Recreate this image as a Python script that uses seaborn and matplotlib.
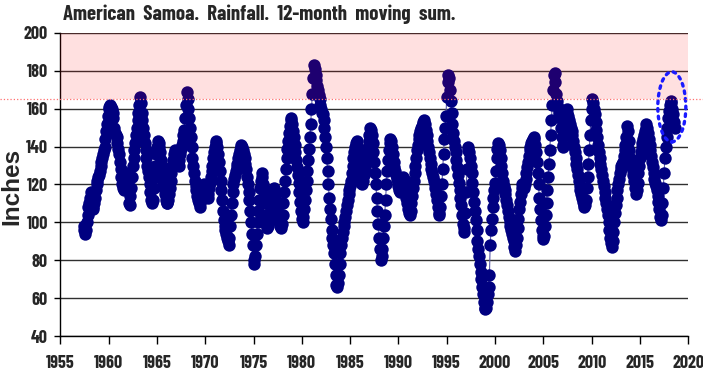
import numpy as np
import pandas as pd
import matplotlib.pyplot as plt
import matplotlib.transforms as mtransforms
from matplotlib.lines import Line2D
from matplotlib.patches import Ellipse
import seaborn as sns

# 12-month moving sum of rainfall (inches), monthly, first value = June 1957
rain_1957_1966 = [
    98, 96, 94, 96, 100, 104, 108,
    110, 113, 116, 112, 108, 107, 110, 113, 117, 120, 122, 124,
    125, 127, 130, 132, 134, 136, 138, 140, 144, 148, 152, 156,
    160, 161, 162, 161, 160, 158, 155, 150, 147, 146, 145, 142,
    139, 136, 132, 128, 124, 120, 118, 117, 119, 121, 124, 126,
    118, 110, 109, 114, 118, 124, 130, 134, 138, 142, 146, 150,
    154, 158, 162, 166, 163, 158, 154, 150, 146, 142, 138, 134,
    130, 127, 124, 120, 116, 112, 110, 112, 118, 124, 130, 136,
    140, 143, 142, 140, 137, 133, 130, 126, 122, 118, 115, 112,
    110, 110, 112, 115, 118, 122, 126, 130, 133, 136, 138, 137,
]
rain_1967_1976 = [
    136, 134, 132, 130, 133, 136, 139, 141, 143, 146, 149, 155,
    162, 169, 165, 160, 155, 150, 145, 140, 134, 130, 126, 122,
    119, 117, 114, 112, 110, 108, 110, 112, 115, 118, 120, 119,
    118, 116, 114, 113, 115, 118, 121, 124, 127, 130, 134, 137,
    140, 142, 143, 140, 136, 132, 127, 122, 117, 112, 106, 101,
    98, 96, 94, 92, 90, 88, 92, 98, 104, 110, 116, 120,
    123, 125, 127, 129, 131, 134, 136, 138, 140, 141, 140, 138,
    136, 134, 131, 128, 124, 120, 116, 112, 106, 100, 94, 88,
    80, 78, 82, 88, 94, 100, 106, 112, 118, 122, 126, 124,
    120, 116, 110, 104, 99, 97, 98, 101, 105, 109, 112, 115,
]
rain_1977_1986 = [
    117, 118, 116, 113, 110, 107, 104, 102, 100, 98, 97, 99,
    104, 110, 116, 122, 128, 134, 139, 143, 147, 151, 154, 155,
    152, 148, 145, 141, 137, 133, 129, 125, 121, 116, 111, 106,
    102, 100, 103, 107, 112, 117, 122, 127, 133, 139, 145, 152,
    160, 168, 176, 183, 181, 178, 175, 172, 170, 167, 165, 162,
    160, 158, 157, 154, 150, 145, 140, 134, 127, 120, 113, 107,
    102, 96, 92, 88, 84, 78, 72, 67, 66, 68, 72, 78,
    84, 88, 92, 95, 98, 100, 103, 106, 109, 112, 115, 117,
    119, 122, 126, 130, 134, 137, 140, 142, 143, 140, 136, 131,
    127, 124, 121, 120, 122, 125, 128, 131, 134, 137, 140, 143,
]
rain_1987_1996 = [
    146, 150, 149, 146, 142, 137, 132, 126, 120, 113, 106, 99,
    92, 86, 80, 82, 86, 92, 98, 104, 112, 120, 127, 133,
    138, 142, 144, 143, 140, 136, 132, 129, 127, 125, 123, 121,
    119, 117, 116, 118, 120, 122, 124, 123, 120, 117, 113, 110,
    107, 105, 104, 106, 110, 114, 118, 122, 126, 130, 134, 138,
    141, 144, 146, 148, 150, 151, 152, 153, 154, 152, 149, 146,
    143, 140, 137, 134, 131, 128, 126, 124, 122, 120, 118, 115,
    112, 108, 105, 104, 108, 114, 120, 128, 136, 144, 150, 156,
    166, 174, 178, 176, 170, 164, 158, 152, 147, 143, 140, 137,
    133, 129, 125, 121, 117, 113, 109, 104, 99, 95, 97, 105,
]
rain_1997_2006 = [
    116, 128, 138, 140, 137, 134, 130, 126, 121, 116, 111, 106,
    101, 96, 90, 86, 82, 78, 74, 70, 66, 62, 58, 55,
    54, 55, 58, 62, 66, 72, 88, 96, 102, 108, 113, 117,
    121, 127, 134, 139, 142, 141, 138, 134, 130, 126, 122, 119,
    117, 115, 112, 109, 106, 103, 100, 98, 96, 94, 92, 90,
    87, 85, 88, 92, 97, 102, 107, 111, 115, 118, 120, 119,
    118, 120, 123, 126, 129, 132, 135, 138, 140, 142, 143, 144,
    145, 144, 141, 137, 132, 126, 120, 113, 107, 101, 96, 93,
    91, 93, 98, 104, 110, 117, 124, 131, 138, 146, 154, 162,
    170, 178, 179, 174, 168, 164, 161, 159, 157, 155, 150, 145,
]
rain_2007_2018 = [
    141, 140, 146, 152, 157, 160, 158, 156, 154, 152, 150, 148,
    146, 143, 140, 137, 134, 131, 128, 125, 122, 119, 117, 115,
    113, 111, 109, 108, 109, 112, 118, 124, 131, 138, 146, 154,
    160, 165, 163, 160, 157, 153, 149, 145, 141, 137, 134, 131,
    128, 125, 122, 119, 116, 113, 110, 107, 104, 100, 96, 92,
    89, 87, 90, 95, 100, 105, 109, 113, 117, 120, 123, 126,
    128, 130, 131, 132, 135, 138, 141, 145, 151, 148, 143, 138,
    134, 131, 129, 127, 125, 122, 118, 115, 117, 121, 126, 130,
    134, 137, 140, 142, 144, 146, 148, 150, 152, 150, 147, 144,
    141, 138, 135, 132, 129, 126, 123, 121, 119, 117, 114, 111,
    107, 103, 101, 104, 110, 118, 126, 134, 140, 145, 150, 155,
    159, 162, 164, 163, 160, 157, 153, 150,
]

title = "American  Samoa.  Rainfall.  12-month  moving  sum."
threshold = 165
band_top = 200
highlight_center = (2018.3, 161)

rain = (rain_1957_1966 + rain_1967_1976 + rain_1977_1986
        + rain_1987_1996 + rain_1997_2006 + rain_2007_2018)
dates = pd.date_range("1957-06-01", periods=len(rain), freq="MS")
df = pd.DataFrame({"year": dates.year + (dates.month - 1) / 12, "rain": rain})

narrow = ["Barlow Condensed", "PT Sans Narrow", "Liberation Sans", "DejaVu Sans"]
sns.set_style("white")
plt.rcParams["font.family"] = narrow
plt.rcParams["font.weight"] = "bold"

fig = plt.figure(figsize=(7.03, 3.74), dpi=100)
ax = fig.add_axes([0.0858, 0.1016, 0.8932, 0.8102])

sns.lineplot(data=df, x="year", y="rain", ax=ax, color="#5a5aa8", lw=0.8, zorder=3)
sns.scatterplot(data=df, x="year", y="rain", ax=ax, color="#000080", s=80,
                linewidth=0, zorder=4)

# pink "wet" band drawn over the markers
ax.axhspan(threshold, band_top, color="red", alpha=0.12, lw=0, zorder=5)

ax.add_patch(Ellipse(highlight_center, 2.9, 37, fill=False, edgecolor="#1a1aff",
                     lw=2.4, ls=(0, (0.8, 1.5)), capstyle="round", zorder=6))

ax.set_xlim(1955, 2020)
ax.set_ylim(40, 200)
ax.set_xticks(range(1955, 2021, 5))
ax.set_yticks(range(40, 201, 20))
ax.yaxis.grid(True, color="#303030", lw=1)
ax.xaxis.grid(False)
ax.set_axisbelow(True)
ax.set_xlabel("")
ax.set_ylabel("")
for side in ["top", "right"]:
    ax.spines[side].set_visible(False)
for side in ["left", "bottom"]:
    ax.spines[side].set_color("black")
    ax.spines[side].set_linewidth(1)
ax.tick_params(axis="both", direction="out", width=1, color="black",
               labelsize=13, left=True, bottom=True)
ax.tick_params(axis="x", length=6, pad=8)
ax.tick_params(axis="y", length=4, pad=5)

# dotted threshold line across the whole figure
trans = mtransforms.blended_transform_factory(fig.transFigure, ax.transData)
fig.add_artist(Line2D([0, 1], [threshold, threshold], transform=trans,
                      color="#ff7070", ls=":", lw=0.9))

fig.text(63 / 703, 1 - 5 / 374, title, ha="left", va="top", fontsize=15,
         fontweight="bold")
fig.text(12 / 703, 1 - 186 / 374, "Inches", rotation=90, ha="center",
         va="center", fontsize=17.5, fontweight="bold",
         family=["Liberation Sans", "DejaVu Sans"])

fig.savefig("out.png", dpi=100)
